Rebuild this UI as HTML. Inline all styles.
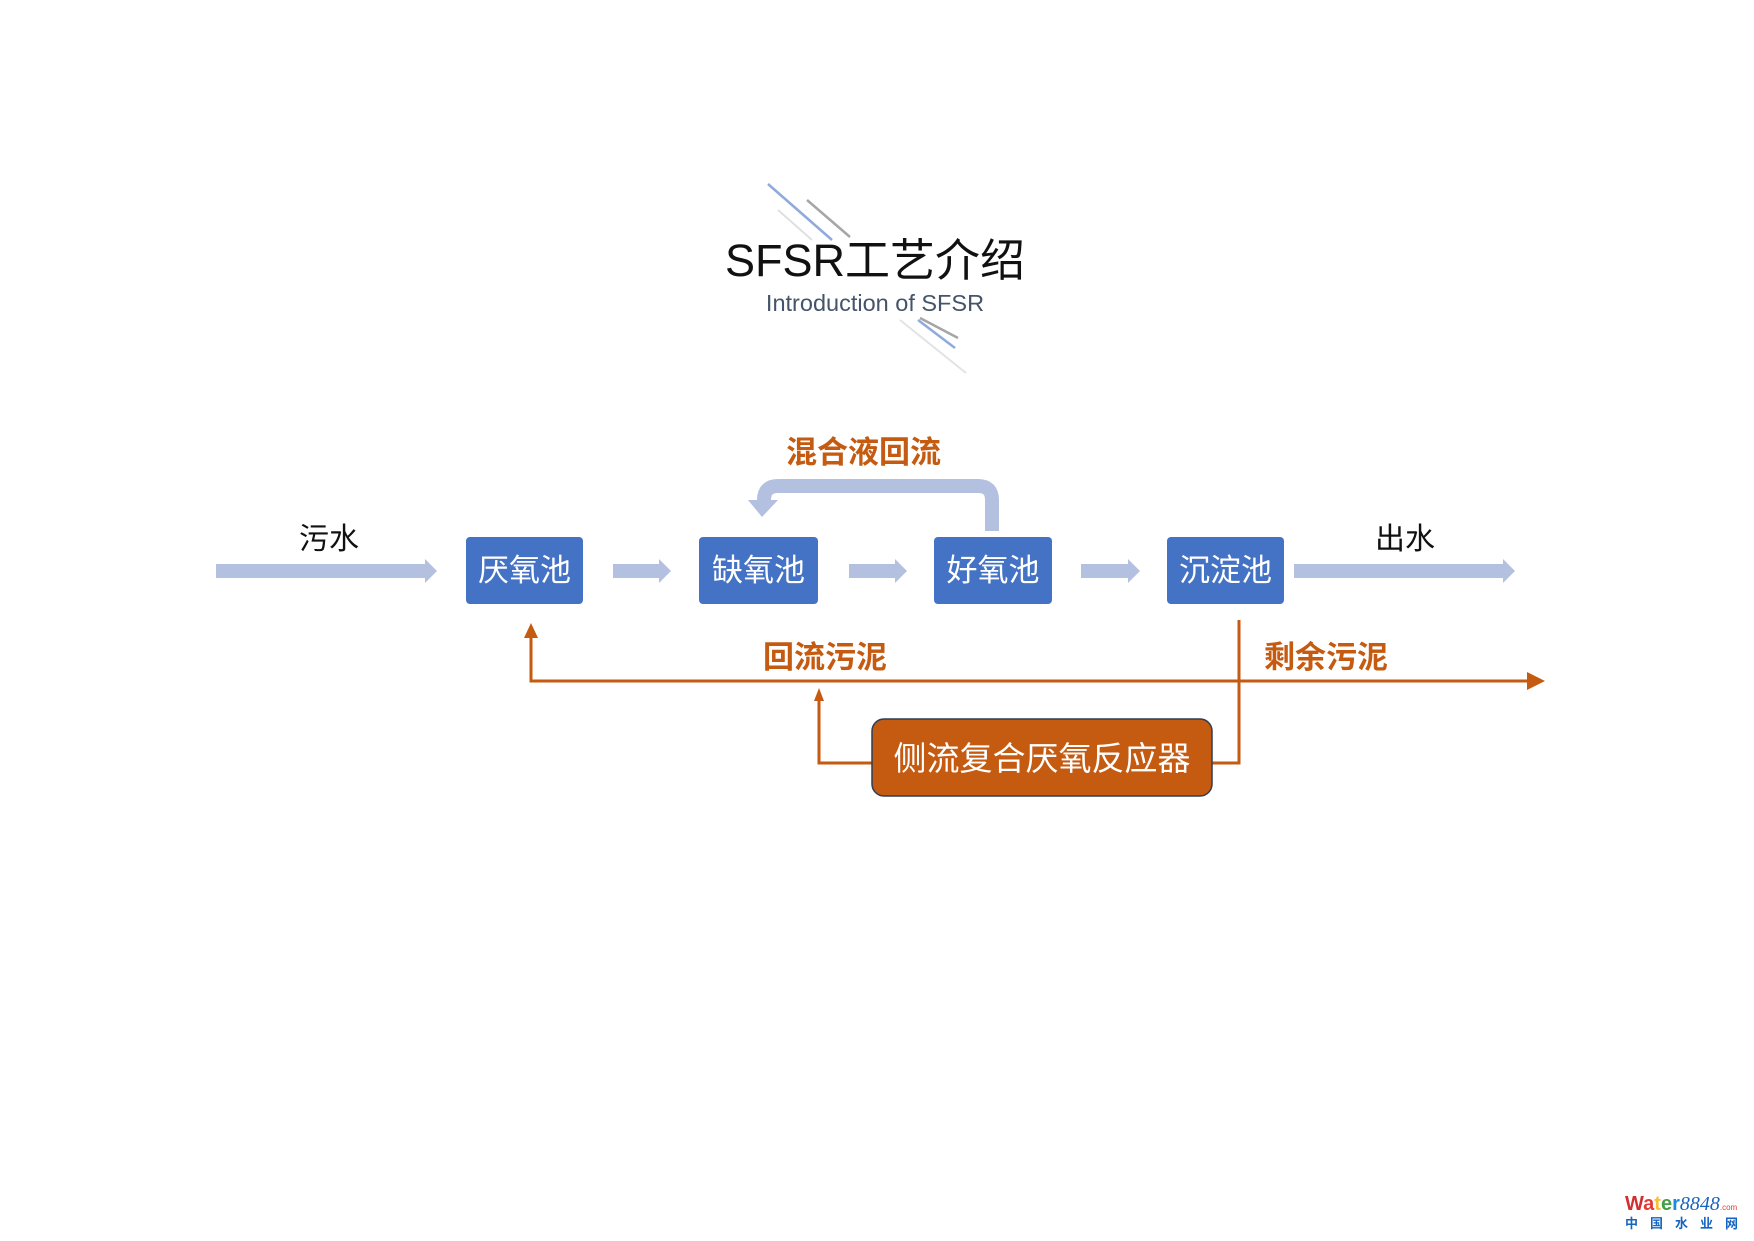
<!DOCTYPE html>
<html><head><meta charset="utf-8"><style>
html,body{margin:0;padding:0;background:#fff;}
svg{display:block;}
</style></head><body>
<svg width="1754" height="1241" viewBox="0 0 1754 1241" xmlns="http://www.w3.org/2000/svg" font-family="'Liberation Sans','Noto Sans CJK SC',sans-serif">
<rect width="1754" height="1241" fill="#fff"/>
<!-- decorative lines -->
<line x1="768" y1="184" x2="832" y2="240" stroke="#8faadc" stroke-width="2.5"/>
<line x1="807" y1="200" x2="850" y2="237" stroke="#a6a6a6" stroke-width="2.5"/>
<line x1="778" y1="210" x2="812" y2="240" stroke="#e0e0e0" stroke-width="2"/>
<line x1="920" y1="318" x2="958" y2="338" stroke="#a6a6a6" stroke-width="2.5"/>
<line x1="918" y1="320" x2="955" y2="348" stroke="#8faadc" stroke-width="2.5"/>
<line x1="900" y1="320" x2="966" y2="373" stroke="#e3e3e3" stroke-width="2"/>
<!-- title -->
<text x="875" y="276" text-anchor="middle" font-size="45" fill="#111">SFSR工艺介绍</text>
<text x="875" y="311" text-anchor="middle" font-size="23.5" fill="#44546a">Introduction of SFSR</text>

<!-- flow arrows -->
<g fill="#b4c0e0">
<polygon points="216,564 425,564 425,559 437,571 425,583 425,578 216,578"/>
<polygon points="613,564 659,564 659,559 671,571 659,583 659,578 613,578"/>
<polygon points="849,564 895,564 895,559 907,571 895,583 895,578 849,578"/>
<polygon points="1081,564 1128,564 1128,559 1140,571 1128,583 1128,578 1081,578"/>
<polygon points="1294,564 1503,564 1503,559 1515,571 1503,583 1503,578 1294,578"/>
</g>
<!-- loop arrow -->
<path d="M992,531 L992,500 Q992,486 978,486 L778,486 Q764,486 764,500 L764,500" fill="none" stroke="#b4c0e0" stroke-width="14"/>
<polygon points="748,500 778,500 762,517" fill="#b4c0e0"/>

<text x="299" y="549" font-size="30" fill="#111">污水</text>
<text x="1375" y="549" font-size="30" fill="#111">出水</text>
<text x="786" y="463" font-size="31" font-weight="bold" fill="#c55a11">混合液回流</text>

<!-- boxes -->
<g fill="#4472c4">
<rect x="466" y="537" width="117" height="67" rx="4"/>
<rect x="699" y="537" width="119" height="67" rx="4"/>
<rect x="934" y="537" width="118" height="67" rx="4"/>
<rect x="1167" y="537" width="117" height="67" rx="4"/>
</g>
<g fill="#fff" font-size="31" text-anchor="middle">
<text x="524.5" y="581">厌氧池</text>
<text x="758.5" y="581">缺氧池</text>
<text x="993" y="581">好氧池</text>
<text x="1225.5" y="581">沉淀池</text>
</g>

<!-- orange lines -->
<g stroke="#c55a11" stroke-width="3" fill="none">
<polyline points="531,636 531,681 1528,681"/>
<polyline points="872,763 819,763 819,700"/>
<polyline points="1239,620 1239,763 1212,763"/>
</g>
<g fill="#c55a11">
<polygon points="524,638 538,638 531,623"/>
<polygon points="814,701 824,701 819,688"/>
<polygon points="1527,672 1545,681 1527,690"/>
</g>
<text x="763" y="668" font-size="31" font-weight="bold" fill="#c55a11">回流污泥</text>
<text x="1264" y="668" font-size="31" font-weight="bold" fill="#c55a11">剩余污泥</text>

<rect x="872" y="719" width="340" height="77" rx="12" fill="#c55a11" stroke="#2f3e56" stroke-width="1.5"/>
<text x="1042" y="770" text-anchor="middle" font-size="33" fill="#fff">侧流复合厌氧反应器</text>

<!-- logo -->
<text x="1625" y="1210" font-size="20" font-weight="bold" fill="#d32f2f">W<tspan fill="#e53935">a</tspan><tspan fill="#fbc02d">t</tspan><tspan fill="#43a047">e</tspan><tspan fill="#1e88e5">r</tspan><tspan font-style="italic" font-weight="normal" fill="#1565c0" font-family="'Liberation Serif',serif">8848</tspan><tspan font-size="8" font-weight="normal" fill="#e53935">.com</tspan></text>
<text x="1625" y="1228" font-size="13" font-weight="bold" fill="#1565c0" letter-spacing="12">中国水业网</text>
</svg>
</body></html>
